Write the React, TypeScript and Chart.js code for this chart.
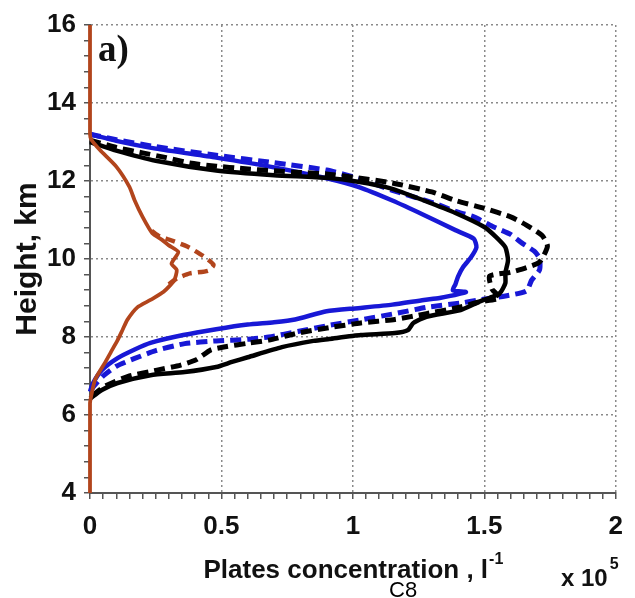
import React, { useEffect, useRef } from 'react';
import { Chart, registerables } from 'chart.js';

Chart.register(...registerables);

// Plate concentration (units of 1e5 per litre) vs height (km)
const blueSolid: [number, number][] = [
  [0, 13.2], [0.1, 13.03], [0.25, 12.83], [0.48, 12.6], [0.7, 12.35], [0.9, 12.07], [1.02, 11.85],
  [1.15, 11.5], [1.27, 11.13], [1.39, 10.74], [1.46, 10.52], [1.47, 10.3], [1.45, 10.05], [1.42, 9.8],
  [1.4, 9.55], [1.39, 9.35], [1.38, 9.2], [1.43, 9.15], [1.33, 9.0], [1.27, 8.95], [1.15, 8.83],
  [1.02, 8.74], [0.9, 8.66], [0.78, 8.45], [0.7, 8.38], [0.6, 8.32], [0.48, 8.2], [0.355, 8.05],
  [0.23, 7.85], [0.17, 7.68], [0.105, 7.46], [0.045, 7.15], [0.01, 6.8], [0, 6.6],
];
const blueDashed: [number, number][] = [
  [0, 13.2], [0.1, 13.06], [0.25, 12.88], [0.48, 12.66], [0.7, 12.47], [0.9, 12.28], [1.02, 12.07],
  [1.15, 11.76], [1.31, 11.43], [1.39, 11.22], [1.46, 11.08], [1.53, 10.84], [1.6, 10.63], [1.645, 10.4],
  [1.69, 10.2], [1.71, 10.02], [1.71, 9.72], [1.68, 9.46], [1.66, 9.18], [1.58, 9.05], [1.48, 8.95],
  [1.41, 8.87], [1.28, 8.76], [1.16, 8.6], [1.03, 8.44], [0.91, 8.3], [0.79, 8.14], [0.68, 8.0],
  [0.6, 7.94], [0.48, 7.9], [0.36, 7.83], [0.25, 7.65], [0.17, 7.45], [0.1, 7.25], [0.05, 7.0],
  [0.01, 6.7], [0, 6.55],
];
const blackSolid: [number, number][] = [
  [0, 13.0], [0.1, 12.78], [0.25, 12.52], [0.48, 12.27], [0.7, 12.15], [0.9, 12.08], [1.02, 11.98],
  [1.15, 11.8], [1.27, 11.5], [1.39, 11.18], [1.5, 10.82], [1.545, 10.56], [1.58, 10.3], [1.59, 9.97],
  [1.58, 9.64], [1.58, 9.38], [1.56, 9.13], [1.53, 9.03], [1.48, 8.9], [1.41, 8.69], [1.28, 8.52],
  [1.23, 8.36], [1.21, 8.18], [1.16, 8.1], [1.03, 8.05], [0.91, 7.95], [0.85, 7.9], [0.73, 7.74],
  [0.6, 7.48], [0.54, 7.36], [0.48, 7.23], [0.36, 7.1], [0.23, 7.02], [0.105, 6.82], [0.045, 6.64],
  [0, 6.42],
];
const blackDashed: [number, number][] = [
  [0, 13.05], [0.1, 12.86], [0.2, 12.72], [0.29, 12.6], [0.38, 12.46], [0.48, 12.38], [0.58, 12.32],
  [0.7, 12.26], [0.8, 12.22], [0.9, 12.18], [1.02, 12.08], [1.15, 11.95], [1.3, 11.72], [1.39, 11.5],
  [1.5, 11.3], [1.6, 11.08], [1.66, 10.87], [1.72, 10.6], [1.74, 10.33], [1.71, 9.92], [1.66, 9.78],
  [1.6, 9.66], [1.52, 9.56], [1.53, 9.22], [1.56, 9.0], [1.48, 8.9], [1.41, 8.77], [1.28, 8.6],
  [1.16, 8.45], [1.03, 8.36], [0.91, 8.24], [0.79, 8.1], [0.68, 7.92], [0.6, 7.84], [0.515, 7.75],
  [0.46, 7.67], [0.405, 7.42], [0.345, 7.28], [0.255, 7.15], [0.15, 7.0], [0.06, 6.75], [0, 6.45],
];
const brownSolid: [number, number][] = [
  [0, 4], [0, 6.3], [0.008, 6.6], [0.019, 6.9], [0.035, 7.1], [0.056, 7.33], [0.08, 7.62],
  [0.105, 7.92], [0.125, 8.2], [0.142, 8.44], [0.18, 8.76], [0.23, 8.95], [0.28, 9.16], [0.32, 9.45],
  [0.33, 9.72], [0.31, 9.88], [0.336, 10.18], [0.3, 10.35], [0.274, 10.49], [0.237, 10.66],
  [0.2, 11.08], [0.17, 11.5], [0.15, 11.85], [0.1, 12.37], [0.037, 12.8], [0.006, 13.05], [0, 13.2], [0, 16],
];
const brownDashed: [number, number][] = [
  [0.3, 9.35], [0.33, 9.5], [0.38, 9.63], [0.45, 9.7], [0.47, 9.85], [0.43, 10.08], [0.37, 10.32],
  [0.3, 10.5], [0.26, 10.6], [0.22, 10.8],
];

const xTickLabels = ['0', '0.5', '1', '1.5', '2'];
const yTickLabels = ['4', '6', '8', '10', '12', '14', '16'];
const X_TITLE = 'Plates concentration , l';
const X_TITLE_SUP = '-1';
const X_MULT = 'x 10';
const X_MULT_SUP = '5';
const Y_TITLE = 'Height, km';
const PANEL_LABEL = 'a)';
const FOOT_LABEL = 'C8';

const X_MIN = 0, X_MAX = 2, X_MINOR = 0.05, X_MAJOR_EVERY = 10;
const Y_MIN = 4, Y_MAX = 16, Y_MINOR = 0.4, Y_MAJOR_EVERY = 5;

const BLUE = '#1818d6';
const BLACK = '#000000';
const BROWN = '#b2451c';
const SANS = '"Liberation Sans", Arial, sans-serif';
const SERIF = '"Liberation Serif", "Times New Roman", serif';

const toXY = (arr: [number, number][]) => arr.map(([x, y]) => ({ x, y }));

const textPlugin = {
  id: 'extraText',
  afterDraw(chart: any) {
    const { ctx, chartArea } = chart;
    ctx.save();
    ctx.fillStyle = '#111';
    ctx.textBaseline = 'alphabetic';
    ctx.textAlign = 'left';
    // x-axis title with superscript
    ctx.font = `bold 26px ${SANS}`;
    const w = ctx.measureText(X_TITLE).width;
    ctx.font = `bold 16px ${SANS}`;
    const sw = ctx.measureText(X_TITLE_SUP).width;
    const cx = (chartArea.left + chartArea.right) / 2;
    const x0 = cx - (w + sw) / 2;
    ctx.font = `bold 26px ${SANS}`;
    ctx.fillText(X_TITLE, x0, 578);
    ctx.font = `bold 16px ${SANS}`;
    ctx.fillText(X_TITLE_SUP, x0 + w + 1, 564);
    // multiplier
    ctx.font = `bold 24px ${SANS}`;
    ctx.fillText(X_MULT, 561, 586);
    const mw = ctx.measureText(X_MULT).width;
    ctx.font = `bold 16px ${SANS}`;
    ctx.fillText(X_MULT_SUP, 561 + mw + 2, 569);
    // panel label
    ctx.font = `bold 37px ${SERIF}`;
    ctx.fillText(PANEL_LABEL, 98, 61);
    // footer label
    ctx.font = `22px ${SANS}`;
    ctx.fillStyle = '#000';
    ctx.fillText(FOOT_LABEL, 389, 597);
    ctx.restore();
  },
};

export default function App() {
  const ref = useRef<HTMLCanvasElement>(null);
  useEffect(() => {
    if (!ref.current) return;
    const xTicks: number[] = [];
    for (let i = 0; i <= Math.round((X_MAX - X_MIN) / X_MINOR); i++) xTicks.push(+(X_MIN + i * X_MINOR).toFixed(4));
    const yTicks: number[] = [];
    for (let i = 0; i <= Math.round((Y_MAX - Y_MIN) / Y_MINOR); i++) yTicks.push(+(Y_MIN + i * Y_MINOR).toFixed(4));

    const mk = (label: string, data: [number, number][], color: string, width: number, dash: number[] | undefined, order: number) => ({
      label,
      data: toXY(data),
      showLine: true,
      borderColor: color,
      backgroundColor: color,
      borderWidth: width,
      borderDash: dash,
      pointRadius: 0,
      tension: 0.2,
      fill: false,
      clip: false as any,
      order,
    });

    const chart = new Chart(ref.current, {
      type: 'scatter',
      data: {
        datasets: [
          mk('brown solid', brownSolid, BROWN, 3.8, undefined, 0),
          mk('brown dashed', brownDashed, BROWN, 4.5, [10, 6], 1),
          mk('black dashed', blackDashed, BLACK, 5, [11, 6], 2),
          mk('black solid', blackSolid, BLACK, 4.5, undefined, 3),
          mk('blue dashed', blueDashed, BLUE, 5, [11, 6], 4),
          mk('blue solid', blueSolid, BLUE, 4.5, undefined, 5),
        ] as any,
      },
      options: {
        animation: false,
        responsive: false,
        devicePixelRatio: 1,
        layout: { padding: { top: 25, right: 10, left: 0, bottom: 0 } },
        plugins: { legend: { display: false }, tooltip: { enabled: false }, title: { display: false } },
        scales: {
          x: {
            type: 'linear',
            min: X_MIN,
            max: X_MAX,
            afterBuildTicks: (axis: any) => { axis.ticks = xTicks.map((v) => ({ value: v })); },
            afterFit: (axis: any) => { axis.height = 105; },
            ticks: {
              autoSkip: false,
              maxRotation: 0,
              padding: 12,
              color: '#111',
              font: { family: SANS, size: 26, weight: 'bold' },
              callback: (_v: any, i: number) => (i % X_MAJOR_EVERY === 0 ? xTickLabels[i / X_MAJOR_EVERY] : ''),
            },
            grid: {
              color: (c: any) => (c.index % X_MAJOR_EVERY === 0 ? '#8a8a8a' : 'rgba(0,0,0,0)'),
              lineWidth: 1.5,
              tickColor: '#555',
              tickLength: 6,
              tickWidth: 1.5,
            },
            border: { display: true, color: '#555', width: 2, dash: [2, 3] },
            title: { display: false },
          },
          y: {
            type: 'linear',
            min: Y_MIN,
            max: Y_MAX,
            afterBuildTicks: (axis: any) => { axis.ticks = yTicks.map((v) => ({ value: v })); },
            afterFit: (axis: any) => { axis.width = 90; },
            ticks: {
              autoSkip: false,
              padding: 8,
              color: '#111',
              font: { family: SANS, size: 26, weight: 'bold' },
              callback: (_v: any, i: number) => (i % Y_MAJOR_EVERY === 0 ? yTickLabels[i / Y_MAJOR_EVERY] : ''),
            },
            grid: {
              color: (c: any) => (c.index % Y_MAJOR_EVERY === 0 ? '#8a8a8a' : 'rgba(0,0,0,0)'),
              lineWidth: 1.5,
              tickColor: '#555',
              tickLength: 6,
              tickWidth: 1.5,
            },
            border: { display: true, color: '#555', width: 2, dash: [2, 3] },
            title: {
              display: true,
              text: Y_TITLE,
              color: '#111',
              font: { family: SANS, size: 30, weight: 'bold' },
              padding: { top: 10, bottom: 0 },
            },
          },
        },
      },
      plugins: [textPlugin],
    } as any);
    return () => chart.destroy();
  }, []);

  return (
    <div style={{ position: 'fixed', left: 0, top: 0, width: 635, height: 598, background: '#fff' }}>
      <canvas ref={ref} width={635} height={598} style={{ display: 'block' }} />
    </div>
  );
}
